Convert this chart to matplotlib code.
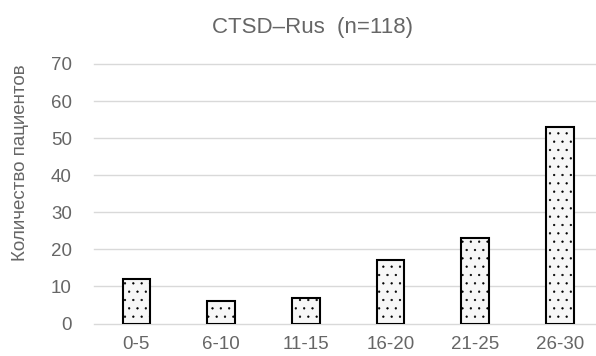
import matplotlib
matplotlib.use("Agg")
import matplotlib.pyplot as plt

categories = ["0-5", "6-10", "11-15", "16-20", "21-25", "26-30"]
values = [12, 6, 7, 17, 23, 53]
yticks = [0, 10, 20, 30, 40, 50, 60, 70]
title = "CTSD\u2013Rus  (n=118)"
ylabel = "Количество пациентов"

plt.rcParams['font.family'] = ['Liberation Sans', 'DejaVu Sans']
plt.rcParams['hatch.linewidth'] = 0.4

fig = plt.figure(figsize=(5.96, 3.56), dpi=100)
left = 94 / 596
ax = fig.add_axes([left, 32.5 / 356, 1 - left, (292 - 32.5) / 356])

x = list(range(len(categories)))
ax.bar(x, values, width=0.325, facecolor='#f7f7f7', edgecolor='black',
       linewidth=1.5, hatch='..', zorder=3)

ax.set_xlim(-0.5, 5.425)
ax.set_ylim(0, 70)
ax.set_yticks(yticks)
ax.set_xticks(x)
ax.set_xticklabels(categories)
for s in ax.spines.values():
    s.set_visible(False)
ax.yaxis.grid(True, color='#d9d9d9', linewidth=1.0, zorder=0)
ax.tick_params(axis='both', length=0, colors='#666666', labelsize=13.5)
ax.tick_params(axis='y', pad=16)
ax.tick_params(axis='x', pad=9)
for t in ax.get_yticklabels() + ax.get_xticklabels():
    t.set_color('#666666')
for gl in ax.get_ygridlines():
    gl.set_clip_on(False)

fig.text(21 / 596, 1 - 163 / 356, ylabel, rotation=90, ha='center', va='center',
         fontsize=13.5, color='#666666')
fig.text(313 / 596, 1 - 27 / 356, title, ha='center', va='center',
         fontsize=16, color='#666666')

fig.savefig("out.png", dpi=100)
